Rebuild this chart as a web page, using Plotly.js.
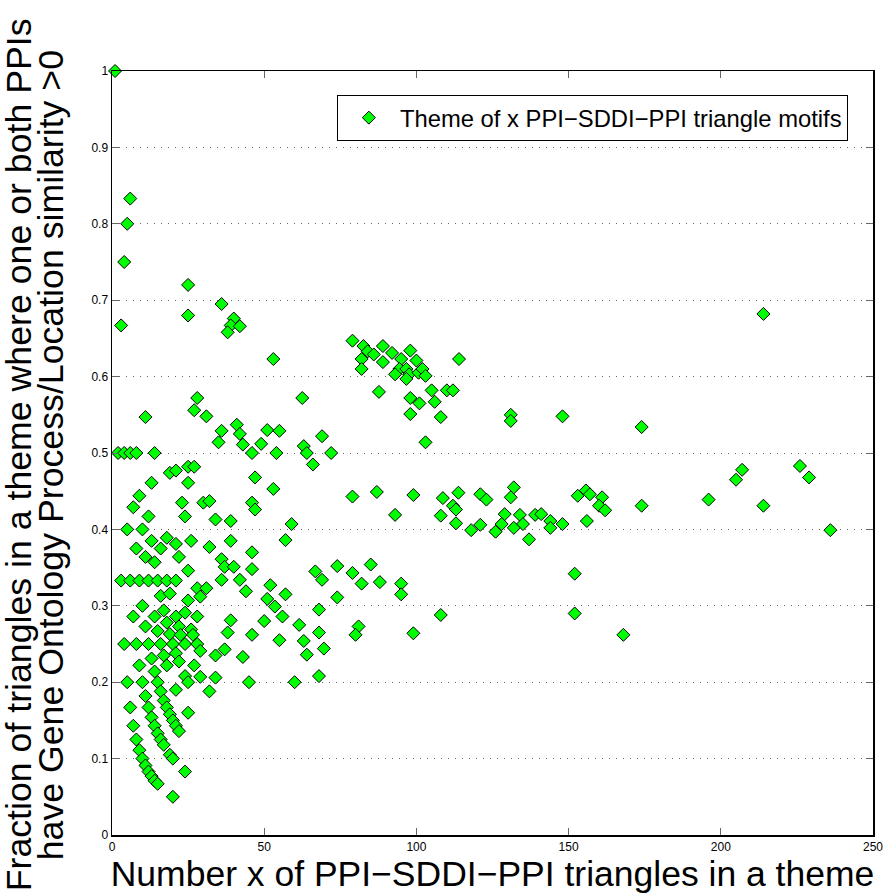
<!DOCTYPE html>
<html>
<head>
<meta charset="utf-8">
<script src="https://cdn.plot.ly/plotly-3.0.1.min.js"></script>
<style>
html,body{margin:0;padding:0;background:#fff;}
#chart{width:885px;height:894px;}
</style>
</head>
<body>
<div id="chart"></div>
<script>
// Number x of PPI-SDDI-PPI triangles in a theme
const themeSizes = [
  1, 6, 5, 4, 3, 25, 25, 36, 40, 39, 38, 42, 53, 11, 28, 27, 31, 36, 35, 41, 42, 43, 51, 55, 49, 46, 54, 62.5, 63, 64, 69, 72, 66,
  2, 4, 6, 8, 14,
  13, 9, 7, 12, 5, 10, 8, 13, 11, 14, 16, 18, 21, 22, 26,
  19, 21, 25, 27, 25, 23, 24, 30, 32, 34, 39, 47, 53, 46, 47, 59, 57, 39, 32, 36, 37, 40, 46, 46, 25, 36, 42, 44, 52, 57, 51, 53.5, 56, 50, 61.5, 39, 38, 46,
  3, 6, 9, 12, 15, 18, 21,
  28, 31, 29, 16, 19, 25, 10, 17, 7, 14, 21, 24, 28, 11, 15, 18, 22, 19, 26, 22.5, 26.6,
  4, 8, 12, 16, 20, 24, 28,
  55, 29, 37, 34, 43, 21, 17, 13, 9, 18, 22, 27, 14, 24, 29, 34,
  5, 10, 15, 25, 45, 21, 32, 16, 11, 17, 18, 6, 12, 19, 25, 13, 20, 7, 14, 21, 22, 15, 8, 16, 17, 9, 19, 10, 20, 11, 12, 24, 13, 14, 15, 20,
  79, 82.6, 84, 86, 89, 92, 98, 82, 82, 89, 95, 100, 94.4, 96.7, 93, 97.6, 96.7, 100.7, 102, 103, 114, 87.7, 105, 110, 112, 98, 101, 106, 98, 108, 103,
  79, 87, 99, 108.7, 113.8, 112, 113, 108, 93, 113, 118, 121,
  66.8, 69, 74, 79, 85, 82, 88, 95, 95, 74, 68, 108, 81, 80, 99, 68, 63, 69.6, 64, 68, 60,
  131, 131, 148, 174, 121, 123, 132, 131, 129, 134, 139, 141, 144, 144, 148, 128, 135, 132, 126, 137,
  153, 155.7, 157, 161, 160, 162, 156, 174, 152, 152, 168,
  214, 196, 205, 207, 214, 226, 229, 236
];
// Fraction of triangles with GO Process/Location similarity > 0
const fractions = [
  1.0, 0.833, 0.8, 0.75, 0.667, 0.72, 0.68, 0.695, 0.676, 0.667, 0.658, 0.666, 0.623, 0.547, 0.572, 0.556, 0.548, 0.529, 0.514, 0.537, 0.525, 0.511, 0.530, 0.529, 0.512, 0.500, 0.500, 0.572, 0.509, 0.500, 0.522, 0.500, 0.485,
  0.5, 0.5, 0.5, 0.5, 0.5,
  0.461, 0.444, 0.429, 0.417, 0.4, 0.4, 0.375, 0.385, 0.364, 0.357, 0.375, 0.389, 0.381, 0.364, 0.385,
  0.474, 0.477, 0.482, 0.482, 0.461, 0.435, 0.417, 0.435, 0.437, 0.413, 0.411, 0.468, 0.453, 0.435, 0.426, 0.407, 0.386, 0.385, 0.377, 0.361, 0.351, 0.351, 0.370, 0.348, 0.346, 0.334, 0.334, 0.319, 0.327, 0.315, 0.309, 0.299, 0.286, 0.280, 0.275, 0.281, 0.265, 0.262,
  0.333, 0.333, 0.333, 0.333, 0.333, 0.333, 0.333,
  0.323, 0.323, 0.312, 0.313, 0.316, 0.307, 0.3, 0.294, 0.286, 0.286, 0.286, 0.291, 0.286, 0.273, 0.267, 0.278, 0.273, 0.263, 0.269, 0.262, 0.262,
  0.25, 0.25, 0.25, 0.25, 0.25, 0.25, 0.25,
  0.255, 0.241, 0.243, 0.235, 0.233, 0.238, 0.235, 0.231, 0.222, 0.222, 0.227, 0.222, 0.214, 0.208, 0.207, 0.206,
  0.2, 0.2, 0.2, 0.2, 0.2, 0.190, 0.188, 0.188, 0.182, 0.176, 0.167, 0.167, 0.167, 0.158, 0.16, 0.154, 0.15, 0.143, 0.143, 0.143, 0.136, 0.133, 0.125, 0.125, 0.118, 0.111, 0.105, 0.1, 0.1, 0.091, 0.083, 0.083, 0.077, 0.071, 0.067, 0.05,
  0.647, 0.640, 0.633, 0.629, 0.640, 0.631, 0.634, 0.623, 0.610, 0.619, 0.623, 0.621, 0.610, 0.610, 0.603, 0.603, 0.597, 0.605, 0.610, 0.601, 0.623, 0.580, 0.582, 0.582, 0.582, 0.572, 0.565, 0.567, 0.551, 0.547, 0.514,
  0.443, 0.449, 0.445, 0.441, 0.448, 0.431, 0.426, 0.418, 0.419, 0.408, 0.399, 0.406,
  0.345, 0.334, 0.352, 0.343, 0.354, 0.329, 0.331, 0.329, 0.315, 0.311, 0.295, 0.288, 0.273, 0.262, 0.264, 0.265, 0.254, 0.244, 0.236, 0.208, 0.2,
  0.55, 0.542, 0.548, 0.534, 0.446, 0.439, 0.455, 0.442, 0.42, 0.419, 0.419, 0.42, 0.411, 0.402, 0.407, 0.407, 0.407, 0.402, 0.397, 0.387,
  0.444, 0.451, 0.446, 0.442, 0.431, 0.425, 0.411, 0.431, 0.342, 0.29, 0.262,
  0.682, 0.439, 0.465, 0.478, 0.431, 0.483, 0.468, 0.399
];
const xTickVals = [0, 50, 100, 150, 200, 250];
const yTickVals = [0, 0.1, 0.2, 0.3, 0.4, 0.5, 0.6, 0.7, 0.8, 0.9, 1];
const yTickText = ['0', '0.1', '0.2', '0.3', '0.4', '0.5', '0.6', '0.7', '0.8', '0.9', '1'];
const seriesName = 'Theme of x PPI\u2212SDDI\u2212PPI triangle motifs';
const xTitle = 'Number x of PPI\u2212SDDI\u2212PPI triangles in a theme';
const yTitleLines = [
  'Fraction of triangles in a theme where one or both PPIs',
  'have Gene Ontology Process/Location similarity >0'
];

const FONT = 'Liberation Sans, Arial, Helvetica, sans-serif';

const trace = {
  x: themeSizes,
  y: fractions,
  type: 'scatter',
  mode: 'markers',
  name: seriesName,
  cliponaxis: false,
  marker: {symbol: 'diamond', size: 10, color: '#00ff00', line: {color: '#000', width: 1}}
};

const axisCommon = {
  showline: true, linecolor: '#000', linewidth: 1.5, mirror: 'ticks',
  ticks: 'inside', ticklen: 7, tickcolor: '#666', tickwidth: 1,
  zeroline: false,
  tickfont: {family: FONT, size: 12, color: '#000'}
};

const layout = {
  width: 885, height: 894,
  margin: {l: 112, r: 12, t: 71, b: 59},
  paper_bgcolor: '#fff', plot_bgcolor: '#fff',
  showlegend: true,
  legend: {
    x: 0.967, y: 0.969, xanchor: 'right', yanchor: 'top',
    bgcolor: '#fff', bordercolor: '#000', borderwidth: 1,
    itemwidth: 52,
    font: {family: FONT, size: 23.8, color: '#000'}
  },
  xaxis: Object.assign({}, axisCommon, {
    range: [0, 250], tickvals: xTickVals, showgrid: false,
    title: {text: xTitle, font: {family: FONT, size: 35.5, color: '#000'}, standoff: 0}
  }),
  yaxis: Object.assign({}, axisCommon, {
    range: [0, 1], tickvals: yTickVals, ticktext: yTickText,
    showgrid: true, gridcolor: '#666', griddash: '1px,6px', gridwidth: 1
  }),
  annotations: yTitleLines.map((t, i) => ({
    text: t, textangle: -90, showarrow: false,
    xref: 'paper', yref: 'paper',
    x: (i === 0 ? (19 - 112) : (51 - 112)) / 761, y: 0.497,
    xanchor: 'center', yanchor: 'middle',
    font: {family: FONT, size: 35.7, color: '#000'}
  }))
};

Plotly.newPlot('chart', [trace], layout, {displayModeBar: false, staticPlot: true});
</script>
</body>
</html>
